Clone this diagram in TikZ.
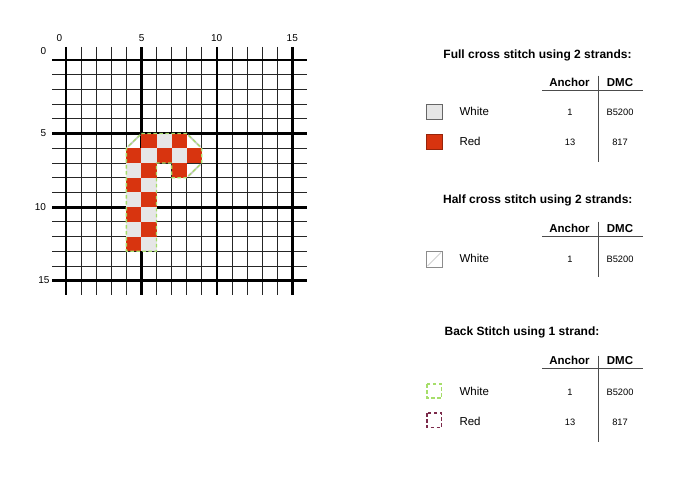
\documentclass[tikz,border=0pt]{standalone}
\usepackage{fontspec}
\setmainfont{Liberation Sans}
\definecolor{stred}{HTML}{D8340F}
\definecolor{stwhite}{HTML}{E6E6E6}
\definecolor{bsgreen}{HTML}{A6DE6A}
\definecolor{bsred}{HTML}{7B2A4A}
\begin{document}
\begin{tikzpicture}[x=1pt,y=-1pt,
  gridthin/.style={line width=0.85pt,black!85},
  gridthick/.style={line width=2.8pt,black},
  axlbl/.style={font=\fontsize{10}{11}\selectfont,inner sep=0pt},
  ttl/.style={font=\bfseries\fontsize{12}{14}\selectfont,inner sep=0pt,anchor=base},
  hdr/.style={font=\bfseries\fontsize{11.5}{13}\selectfont,inner sep=0pt,anchor=base},
  cname/.style={font=\fontsize{11.5}{13}\selectfont,inner sep=0pt,anchor=base west},
  num/.style={font=\fontsize{9.3}{10}\selectfont,inner sep=0pt,anchor=base},
  rule/.style={line width=1pt,black!70},
  swwhite/.style={fill=stwhite,draw=black!60,line width=1pt},
  swred/.style={fill=stred,draw=stred!70!black,line width=1pt},
  halfst/.style={line width=1.8pt,black!22,line cap=round},
  bsg/.style={bsgreen,line width=1.3pt,dash pattern=on 3.5pt off 2.5pt},
  bsr/.style={bsred,line width=1.3pt,dash pattern=on 3.5pt off 2.5pt}
]
\useasboundingbox (0,0) rectangle (700,487);
\fill[white] (0,0) rectangle (700,487);

% ---- chart grid ----
\begin{scope}[shift={(66,60)},x=15.09pt,y=-14.71pt]
  \foreach \i in {1,2,3,4,6,7,8,9,11,12,13,14} {
    \draw[gridthin] (\i,-0.9) -- (\i,15.95);
    \draw[gridthin] (-0.9,\i) -- (15.95,\i);
  }
  \foreach \i in {0,5,10,15} {
    \draw[gridthick] (\i,-0.9) -- (\i,15.95);
    \draw[gridthick] (-0.9,\i) -- (15.95,\i);
  }
  % full cross stitches
  \foreach \c/\r in {5/5,7/5,4/6,6/6,8/6,5/7,7/7,4/8,5/9,4/10,5/11,4/12}
    \fill[stred] (\c,\r) rectangle ++(1,1);
  \foreach \c/\r in {6/5,5/6,7/6,4/7,5/8,4/9,5/10,4/11,5/12}
    \fill[stwhite] (\c,\r) rectangle ++(1,1);
  % half cross stitches
  \draw[halfst] (4.12,5.88) -- (4.88,5.12);
  \draw[halfst] (8.12,5.12) -- (8.88,5.88);
  \draw[halfst] (8.12,7.88) -- (8.88,7.12);
  % back stitch outline
  \draw[bsg] (5,5) -- (8,5) -- (9,6) -- (9,7) -- (8,8) -- (7,8) -- (7,7)
    -- (6,7) -- (6,13) -- (4,13) -- (4,6) -- cycle;
\end{scope}

% axis labels
\node[axlbl] (t0) at (59.5,38) {0};
\node[axlbl] (t5) at (141.7,38) {5};
\node[axlbl] (t10) at (216.7,38) {10};
\node[axlbl] (t15) at (292.3,38) {15};
\node[axlbl] (l0) at (43.5,51.5) {0};
\node[axlbl] (l5) at (43.5,133) {5};
\node[axlbl] (l10) at (40.5,207.5) {10};
\node[axlbl] (l15) at (44,280.5) {15};

% ---- legend: full cross ----
\node[ttl] (ft) at (537.5,58) {Full cross stitch using 2 strands:};
\node[hdr] (fa) at (569.5,86.7) {Anchor};
\node[hdr] (fd) at (620,86.7) {DMC};
\draw[rule] (542,90.5) -- (643,90.5);
\draw[rule] (598.3,75.7) -- (598.3,161.7);
\draw[swwhite] (426.5,104.5) rectangle (442,119.5);
\node[cname] (fw) at (459.3,115.8) {White};
\node[num] (fw1) at (570,115.8) {1};
\node[num] (fw2) at (620,115.8) {B5200};
\draw[swred] (426.5,134.5) rectangle (442,149.5);
\node[cname] (fr) at (459.3,145.5) {Red};
\node[num] (fr1) at (570,145.5) {13};
\node[num] (fr2) at (620,145.5) {817};

% ---- legend: half cross ----
\node[ttl] (ht) at (537.8,203) {Half cross stitch using 2 strands:};
\node[hdr] (ha) at (569.5,232) {Anchor};
\node[hdr] (hd) at (620,232) {DMC};
\draw[rule] (542,236.7) -- (643,236.7);
\draw[rule] (598.3,221.7) -- (598.3,276.7);
\draw[fill=white,draw=black!45,line width=1pt] (426.5,251.5) rectangle (442,267);
\draw[line width=1pt,black!18] (427.5,266) -- (441,252.5);
\node[cname] (hw) at (459.3,262.5) {White};
\node[num] (hw1) at (570,262.5) {1};
\node[num] (hw2) at (620,262.5) {B5200};

% ---- legend: back stitch ----
\node[ttl] (bt) at (522,335) {Back Stitch using 1 strand:};
\node[hdr] (ba) at (569.5,364) {Anchor};
\node[hdr] (bd) at (620,364) {DMC};
\draw[rule] (542,368) -- (643,368);
\draw[rule] (598.3,355.7) -- (598.3,441.7);
\draw[bsg] (427,384) rectangle (441.5,398);
\node[cname] (bw) at (459.3,395) {White};
\node[num] (bw1) at (570,395) {1};
\node[num] (bw2) at (620,395) {B5200};
\draw[bsr] (427,413) rectangle (441.5,427.5);
\node[cname] (br) at (459.3,425) {Red};
\node[num] (br1) at (570,425) {13};
\node[num] (br2) at (620,425) {817};
\end{tikzpicture}
\end{document}
